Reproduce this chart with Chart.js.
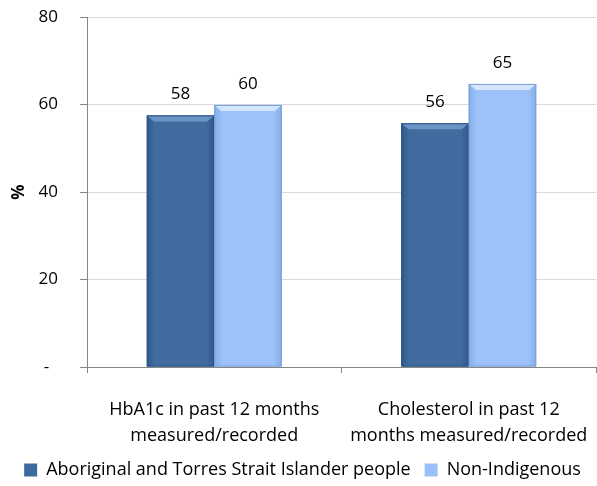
<!DOCTYPE html>
<html>
<head>
<meta charset="utf-8">
<script src="https://cdn.jsdelivr.net/npm/chart.js@4.4.1/dist/chart.umd.min.js"></script>
<style>
  html, body { margin: 0; padding: 0; background: #fff; }
  #wrap { width: 597px; height: 486px; position: relative; }
</style>
</head>
<body>
<div id="wrap"><canvas id="chart"></canvas></div>
<script>
// data
const categories = [
    ['HbA1c in past 12 months', 'measured/recorded'],
    ['Cholesterol in past 12', 'months measured/recorded']
];
const seriesNames = ['Aboriginal and Torres Strait Islander people', 'Non-Indigenous'];
const indigenousValues = [57.5, 55.7];
const nonIndigenousValues = [59.9, 64.7];
const valueLabels = [['58', '56'], ['60', '65']];
const yTicks = [0, 20, 40, 60, 80];

const FONT = '"Open Sans", "Noto Sans", sans-serif';
const palette = [
    { edge: '#30598a', mid: '#406c9f', top: '#6b94c6', border: '#2c5282' },
    { edge: '#86aee8', mid: '#9cc2f9', top: '#d4e6ff', border: '#7a9fd6' }
];

// bevel / gradient look drawn over each bar element
const bevelBars = {
    id: 'bevelBars',
    afterDatasetsDraw(chart) {
        const ctx = chart.ctx;
        chart.data.datasets.forEach((ds, di) => {
            const meta = chart.getDatasetMeta(di);
            const c = palette[di];
            meta.data.forEach(bar => {
                const l = bar.x - bar.width / 2, r = bar.x + bar.width / 2;
                const t = bar.y, b = bar.base;
                ctx.save();
                const g = ctx.createLinearGradient(l, 0, r, 0);
                g.addColorStop(0, c.edge);
                g.addColorStop(0.12, c.mid);
                g.addColorStop(0.88, c.mid);
                g.addColorStop(1, c.edge);
                ctx.fillStyle = g;
                ctx.fillRect(l, t, r - l, b - t);
                // top bevel
                ctx.beginPath();
                ctx.moveTo(l, t);
                ctx.lineTo(r, t);
                ctx.lineTo(r - 7, t + 6);
                ctx.lineTo(l + 7, t + 6);
                ctx.closePath();
                ctx.fillStyle = c.top;
                ctx.fill();
                ctx.strokeStyle = c.border;
                ctx.lineWidth = 1;
                ctx.strokeRect(l + 0.5, t + 0.5, r - l - 1, b - t - 1);
                ctx.restore();
            });
        });
    }
};

// value labels above bars
const valueText = {
    id: 'valueText',
    afterDatasetsDraw(chart) {
        const ctx = chart.ctx;
        ctx.save();
        ctx.font = '17px ' + FONT;
        ctx.fillStyle = '#000';
        ctx.textAlign = 'center';
        ctx.textBaseline = 'middle';
        chart.data.datasets.forEach((ds, di) => {
            chart.getDatasetMeta(di).data.forEach((bar, i) => {
                ctx.fillText(valueLabels[di][i], bar.x, bar.y - 21);
            });
        });
        ctx.restore();
    }
};

new Chart(document.getElementById('chart'), {
    type: 'bar',
    data: {
        labels: categories,
        datasets: [
            { label: seriesNames[0], data: indigenousValues, backgroundColor: '#3d6a9e', borderWidth: 0 },
            { label: seriesNames[1], data: nonIndigenousValues, backgroundColor: '#99c0f8', borderWidth: 0 }
        ]
    },
    options: {
        responsive: true,
        maintainAspectRatio: false,
        animation: false,
        layout: { padding: { top: 17, right: 1, left: 9, bottom: 0 } },
        datasets: { bar: { barPercentage: 1, categoryPercentage: 0.53 } },
        scales: {
            x: {
                afterFit: s => { s.height = 80; s.paddingLeft = 0; s.paddingRight = 0; },
                grid: { offset: true, drawOnChartArea: false, color: '#868686', tickLength: 6 },
                border: { color: '#868686' },
                ticks: { color: '#000', font: { size: 18, family: FONT, lineHeight: 1.45 }, padding: 24, maxRotation: 0 }
            },
            y: {
                min: 0, max: 80,
                afterBuildTicks: s => { s.ticks = yTicks.map(v => ({ value: v })); },
                afterFit: s => { s.width = 78; s.paddingTop = 0; s.paddingBottom = 0; },
                grid: { color: '#d9d9d9', tickColor: '#868686', tickLength: 7 },
                border: { color: '#868686' },
                ticks: {
                    color: '#000', font: { size: 17, family: FONT }, padding: 22,
                    callback: v => v === 0 ? '-  ' : v
                },
                title: { display: true, text: '%', color: '#000', font: { size: 17, family: FONT, weight: 'bold' }, padding: 0 }
            }
        },
        plugins: {
            legend: {
                position: 'bottom',
                maxHeight: 39,
                labels: { color: '#000', font: { size: 18, family: FONT }, boxWidth: 13, boxHeight: 13, padding: 14 }
            },
            tooltip: { enabled: false }
        }
    },
    plugins: [bevelBars, valueText]
});
</script>
</body>
</html>
